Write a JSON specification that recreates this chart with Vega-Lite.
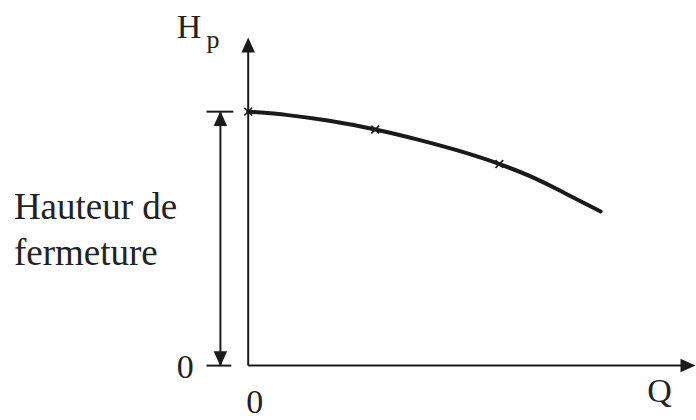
{
  "$schema": "https://vega.github.io/schema/vega-lite/v6.json",
  "width": 696,
  "height": 420,
  "padding": 0,
  "autosize": {"type": "fit", "contains": "padding"},
  "background": "white",
  "config": {"view": {"stroke": null}},
  "datasets": {
    "curve": [
      {"Q": 0, "H": 2.57},
      {"Q": 0.4, "H": 2.535},
      {"Q": 0.8, "H": 2.48},
      {"Q": 1.28, "H": 2.39},
      {"Q": 1.7, "H": 2.29},
      {"Q": 2.1, "H": 2.18},
      {"Q": 2.53, "H": 2.04},
      {"Q": 2.9, "H": 1.89},
      {"Q": 3.2, "H": 1.74},
      {"Q": 3.55, "H": 1.56}
    ],
    "points": [
      {"Q": 0, "H": 2.57},
      {"Q": 1.28, "H": 2.39},
      {"Q": 2.53, "H": 2.04}
    ],
    "segments": [
      {"name": "axe H", "x1": 0, "y1": 0, "x2": 0, "y2": 3.18},
      {"name": "axe Q", "x1": 0, "y1": 0, "x2": 4.42, "y2": 0},
      {"name": "cote", "x1": -0.28, "y1": 0, "x2": -0.28, "y2": 2.57},
      {"name": "trait haut", "x1": -0.42, "y1": 2.57, "x2": -0.15, "y2": 2.57},
      {"name": "trait bas", "x1": -0.42, "y1": 0.0, "x2": -0.17, "y2": 0.0}
    ],
    "heads": [
      {"name": "fleche H", "Q": 0, "H": 3.245, "dir": "haut"},
      {"name": "fleche Q", "Q": 4.43, "H": 0, "dir": "droite"},
      {"name": "cote haut", "Q": -0.28, "H": 2.5, "dir": "haut"},
      {"name": "cote bas", "Q": -0.28, "H": 0.07, "dir": "bas"}
    ],
    "labels": [
      {"text": "H", "Q": -0.72, "H": 3.32, "kind": "big"},
      {"text": "p", "Q": -0.42, "H": 3.21, "kind": "sub"},
      {"text": "0", "Q": -0.72, "H": -0.13, "kind": "big"},
      {"text": "0", "Q": -0.02, "H": -0.48, "kind": "big"},
      {"text": "Q", "Q": 4.02, "H": -0.37, "kind": "big"},
      {"text": "Hauteur de", "Q": -2.36, "H": 1.48, "kind": "side"},
      {"text": "fermeture", "Q": -2.36, "H": 1.02, "kind": "side"}
    ]
  },
  "layer": [
    {
      "data": {"name": "segments"},
      "mark": {"type": "rule", "color": "#1a1a1a", "strokeWidth": 2},
      "encoding": {
        "x": {"field": "x1", "type": "quantitative", "scale": {"domain": [-2.5, 4.46], "nice": false, "zero": false}, "axis": null},
        "y": {"field": "y1", "type": "quantitative", "scale": {"domain": [-0.5, 3.7], "nice": false, "zero": false}, "axis": null},
        "x2": {"field": "x2"},
        "y2": {"field": "y2"}
      }
    },
    {
      "data": {"name": "heads"},
      "mark": {"type": "point", "filled": true, "color": "#1a1a1a", "opacity": 1, "size": 225},
      "encoding": {
        "x": {"field": "Q", "type": "quantitative"},
        "y": {"field": "H", "type": "quantitative"},
        "shape": {
          "field": "dir",
          "type": "nominal",
          "scale": {"domain": ["haut", "bas", "droite"], "range": ["M0,-1L0.9,1L-0.9,1Z", "M0,1L0.9,-1L-0.9,-1Z", "M1,0L-1,0.9L-1,-0.9Z"]},
          "legend": null
        }
      }
    },
    {
      "data": {"name": "curve"},
      "mark": {"type": "line", "color": "#1a1a1a", "strokeWidth": 4, "interpolate": "monotone", "strokeCap": "round"},
      "encoding": {
        "x": {"field": "Q", "type": "quantitative"},
        "y": {"field": "H", "type": "quantitative"}
      }
    },
    {
      "data": {"name": "points"},
      "mark": {"type": "point", "shape": "M-1,-1L1,1M1,-1L-1,1", "filled": false, "color": "#1a1a1a", "strokeWidth": 1.6, "size": 60, "opacity": 1},
      "encoding": {
        "x": {"field": "Q", "type": "quantitative"},
        "y": {"field": "H", "type": "quantitative"}
      }
    },
    {
      "data": {"name": "labels"},
      "transform": [{"filter": "datum.kind === 'big'"}],
      "mark": {"type": "text", "align": "left", "baseline": "alphabetic", "font": "Liberation Serif", "color": "#222222", "fontSize": 34},
      "encoding": {
        "x": {"field": "Q", "type": "quantitative"},
        "y": {"field": "H", "type": "quantitative"},
        "text": {"field": "text"}
      }
    },
    {
      "data": {"name": "labels"},
      "transform": [{"filter": "datum.kind === 'side'"}],
      "mark": {"type": "text", "align": "left", "baseline": "alphabetic", "font": "Liberation Serif", "color": "#222222", "fontSize": 37},
      "encoding": {
        "x": {"field": "Q", "type": "quantitative"},
        "y": {"field": "H", "type": "quantitative"},
        "text": {"field": "text"}
      }
    },
    {
      "data": {"name": "labels"},
      "transform": [{"filter": "datum.kind === 'sub'"}],
      "mark": {"type": "text", "align": "left", "baseline": "alphabetic", "font": "Liberation Serif", "color": "#222222", "fontSize": 26},
      "encoding": {
        "x": {"field": "Q", "type": "quantitative"},
        "y": {"field": "H", "type": "quantitative"},
        "text": {"field": "text"}
      }
    }
  ]
}
